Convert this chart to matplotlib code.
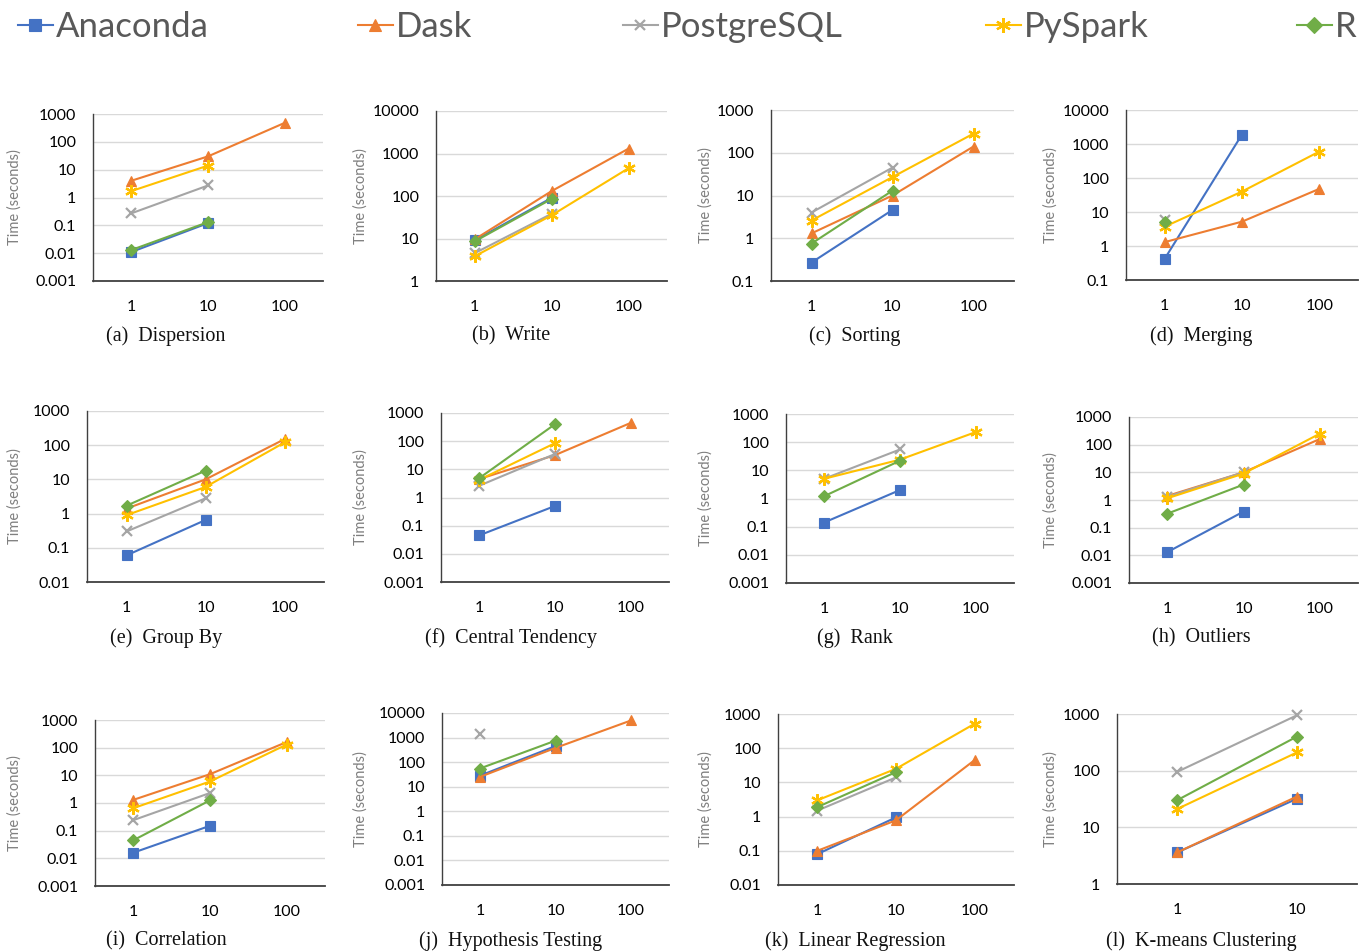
import numpy as np
import matplotlib
matplotlib.use("Agg")
import matplotlib.pyplot as plt
from matplotlib.ticker import FixedLocator, FixedFormatter

nan = np.nan

TASKS = ["(a)  Dispersion", "(b)  Write", "(c)  Sorting", "(d)  Merging",
         "(e)  Group By", "(f)  Central Tendency", "(g)  Rank", "(h)  Outliers",
         "(i)  Correlation", "(j)  Hypothesis Testing", "(k)  Linear Regression",
         "(l)  K-means Clustering"]
SCALES = ["1", "10", "100"]
SYSTEMS = ["Anaconda", "Dask", "PostgreSQL", "PySpark", "R"]

# time (seconds) at scale 1, 10, 100 for each task (a)..(l)
ANACONDA = [[0.011, 0.12, nan], [9, 90, nan], [0.27, 4.6, nan], [0.42, 1900, nan],
            [0.06, 0.65, nan], [0.045, 0.5, nan], [0.14, 2.0, nan], [0.013, 0.38, nan],
            [0.016, 0.15, nan], [28, 450, nan], [0.08, 0.95, nan], [3.6, 32]]
DASK = [[4, 30, 480], [9.5, 130, 1300], [1.3, 10, 140], [1.3, 5.2, 48],
        [1.4, 10, 150], [4.5, 32, 450], [nan, nan, nan], [1.4, 10, 160],
        [1.3, 11, 160], [25, 380, 5000], [0.1, 0.78, 45], [3.6, 35]]
POSTGRESQL = [[0.27, 2.7, nan], [4.5, 38, nan], [4, 45, nan], [6, nan, nan],
              [0.3, 2.8, nan], [2.6, 35, nan], [5, 55, nan], [1.3, 10, nan],
              [0.24, 2.3, nan], [1400, nan, nan], [1.5, 14, nan], [95, 950]]
PYSPARK = [[1.7, 14, nan], [3.8, 35, 450], [2.6, 27, 280], [3.7, 40, 600],
           [0.9, 6, 120], [4.2, 85, nan], [5, 24, 230], [1.15, 9, 250],
           [0.65, 6, 130], [nan, nan, nan], [3, 25, 520], [21, 210]]
R_LANG = [[0.013, 0.13, nan], [8.5, 85, nan], [0.75, 13, nan], [5, nan, nan],
          [1.7, 18, nan], [4.8, 400, nan], [1.2, 22, nan], [0.32, 3.6, nan],
          [0.045, 1.25, nan], [55, 750, nan], [1.9, 20, nan], [30, 400]]

YRANGES = [(0.001, 1000), (1, 10000), (0.1, 1000), (0.1, 10000),
           (0.01, 1000), (0.001, 1000), (0.001, 1000), (0.001, 1000),
           (0.001, 1000), (0.001, 10000), (0.01, 1000), (1, 1000)]

# layout in pixels (left, right, top, bottom)
BOXES = [(93, 323, 114, 281), (436, 667, 111, 281), (771, 1014, 110, 281), (1126, 1358, 110, 280),
         (87, 324, 411, 582), (441, 669, 413, 582), (786, 1014, 414, 583), (1129, 1358, 417, 583),
         (95, 325, 720, 886), (442, 669, 713, 885), (778, 1014, 714, 885), (1117, 1357, 714, 884)]
CAPTION_X = [166, 511, 855, 1201]
CAPTION_Y = [336, 638, 941]
YLABEL_X = [15, 361, 706, 1051]
LEGEND_X = [18, 358, 623, 986, 1297]

COLORS = ["#4472C4", "#ED7D31", "#A5A5A5", "#FFC000", "#70AD47"]
MARKERS = ["s", "^", "x", (6, 2, 0), "D"]
MSIZES = [7.5, 7.5, 6.5, 9, 6.5]

W, H = 1360, 952
fig = plt.figure(figsize=(W / 100, H / 100), dpi=100)
plt.rcParams["font.family"] = ["Lato", "DejaVu Sans"]

series = [ANACONDA, DASK, POSTGRESQL, PYSPARK, R_LANG]

def fmt(v):
    if v >= 1:
        return str(int(round(v)))
    return ("%.3f" % v).rstrip("0")

handles = []
for i, task in enumerate(TASKS):
    l, r, t, b = BOXES[i]
    row, col = divmod(i, 4)
    ax = fig.add_axes([l / W, 1 - b / H, (r - l) / W, (b - t) / H])
    ncat = len(ANACONDA[i])
    cats = SCALES[:ncat]
    for s, data in enumerate(series):
        vals = np.array(data[i], dtype=float)
        ln, = ax.plot(cats, vals, color=COLORS[s], marker=MARKERS[s], markersize=MSIZES[s],
                      markeredgewidth=1.6 if s in (2, 3) else 0.8, linewidth=1.5,
                      markerfacecolor=COLORS[s], markeredgecolor=COLORS[s],
                      zorder=3 + s * 0.1, clip_on=False)
        if i == 0:
            handles.append(ln)
    ax.set_yscale("log")
    lo, hi = YRANGES[i]
    ax.set_ylim(lo, hi)
    ax.set_xlim(-0.5, ncat - 0.5)
    decs = [10.0 ** k for k in range(int(round(np.log10(lo))), int(round(np.log10(hi))) + 1)]
    ax.yaxis.set_major_locator(FixedLocator(decs))
    ax.yaxis.set_major_formatter(FixedFormatter([fmt(d) for d in decs]))
    ax.yaxis.set_minor_locator(FixedLocator([]))
    ax.grid(axis="y", color="#D9D9D9", linewidth=1.0)
    ax.set_axisbelow(True)
    for sp in ["top", "right"]:
        ax.spines[sp].set_visible(False)
    ax.spines["left"].set_color("#404040")
    ax.spines["bottom"].set_color("#404040")
    ax.spines["left"].set_linewidth(1.0)
    ax.spines["bottom"].set_linewidth(1.3)
    ax.tick_params(axis="both", length=0, labelsize=11.5, colors="#000000")
    ax.tick_params(axis="x", pad=14)
    ax.tick_params(axis="y", pad=12)
    ax.set_ylabel("Time (seconds)", fontsize=10.5, color="#7F7F7F", va="center")
    ax.yaxis.set_label_coords((YLABEL_X[col] - l) / (r - l), 0.5)
    fig.text(CAPTION_X[col] / W, 1 - CAPTION_Y[row] / H, task, ha="center", va="center",
             fontsize=14.5, family="Liberation Serif", color="#111111")

for s, name in enumerate(SYSTEMS):
    fig.legend([handles[s]], [name], loc="center left",
               bbox_to_anchor=(LEGEND_X[s] / W, 1 - 27 / H),
               frameon=False, fontsize=25, handlelength=1.0, handletextpad=0.1,
               borderpad=0, borderaxespad=0, labelcolor="#595959", markerscale=1.2)

fig.savefig("out.png", dpi=100)
